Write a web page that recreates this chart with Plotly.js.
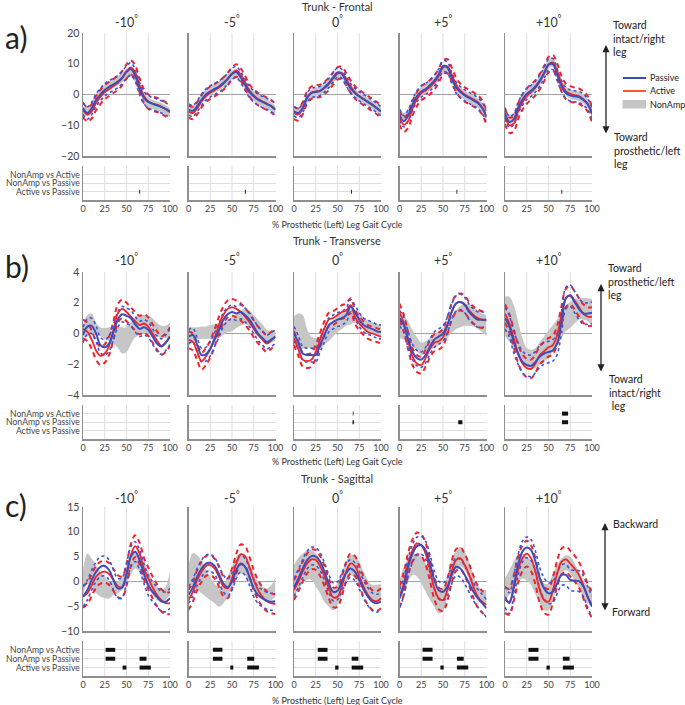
<!DOCTYPE html>
<html><head><meta charset="utf-8">
<script src="https://cdn.plot.ly/plotly-3.0.1.min.js"></script>
<style>body{margin:0;background:#fff}#chart{width:685px;height:705px}</style>
</head><body><div id="chart"></div>
<script>
// ---------- DATA ----------
const gaitPct = [0,5,10,15,20,25,30,35,40,45,50,55,60,65,70,75,80,85,90,95,100];
const conditions = ['-10','-5','0','+5','+10'];
const comparisons = ['Active vs Passive','NonAmp vs Passive','NonAmp vs Active']; // y = 1,2,3
const xTickVals = [0,25,50,75,100];
const rowTitles = ['Trunk - Frontal','Trunk - Transverse','Trunk - Sagittal'];
const rowLetters = ['a)','b)','c)'];
const frontalTicks = [-20,-10,0,10,20];
const transverseTicks = [-4,-2,0,2,4];
const sagittalTicks = [-10,-5,0,5,10,15];

// Frontal plane (deg)
const frontalPassive = [
 [-4.5,-6,-4.5,-1.8,0,1.5,2.5,3.3,4.2,5.5,7.3,8.3,6.2,2,-1,-2.4,-3,-3.5,-4,-4.7,-5.5],
 [-4.9,-5.3,-3.8,-1.7,0,1,1.8,2.6,3.7,5.1,6.7,7.3,5.6,3.2,0.8,-0.6,-1.7,-2.4,-3.1,-3.8,-4.9],
 [-5.5,-6,-4.4,-1.1,0.5,0.8,1.2,2.3,3.7,5.6,7.2,6.7,4.3,2.1,0.5,-0.6,-1.5,-2.4,-3.3,-4.4,-5.5],
 [-6.6,-8.7,-6.8,-3.3,-0.6,1,1.8,3,4.5,6.5,9.2,8.8,5.4,2.3,0.8,-0.3,-1.1,-1.9,-2.8,-4.4,-7.1],
 [-6,-8.9,-8.1,-4.4,-1.7,0.2,1.2,2.6,4.5,7,9.7,9.9,6.4,2.7,0.5,-0.3,-0.6,-0.8,-1.7,-3.1,-6]
];
const frontalPassiveSD = [2,1.8,1.5,1.8,1.8];
const frontalActive = [
 [-5,-6.5,-5.5,-2.8,-0.8,0.8,1.8,2.8,3.8,5.3,7.5,8.8,7.2,3,-0.5,-2.3,-3,-3.4,-4,-4.8,-5.8],
 [-5.5,-6,-4.5,-2.2,-0.5,0.6,1.4,2.3,3.5,5,6.8,7.8,6.5,4,1.3,-0.3,-1.5,-2.3,-3,-3.8,-5],
 [-6,-6.5,-4.5,-1,0.6,1,1.2,2.1,3.4,5.2,6.8,7,5,2.6,0.7,-0.5,-1.5,-2.5,-3.4,-4.4,-5.5],
 [-7.5,-9.8,-8.5,-4.5,-1.5,0.5,1.3,2.4,3.9,6,8.8,9.2,6.5,3.2,1.2,0,-0.8,-1.6,-2.5,-4.2,-7.5],
 [-7,-10,-9.5,-5.5,-2.5,-0.5,0.8,2.2,4.2,6.8,9.7,10.4,7.5,3.5,1,0.2,-0.2,-0.5,-1.5,-3,-6.5]
];
const frontalActiveSD = [2.3,2,2,2.3,2.5];
const frontalNonAmp = [
 [-5.5,-5.5,-3.8,-1.2,0.5,1.8,2.8,3.6,4.5,5.5,6.8,7.2,5.5,2,-1,-2.5,-3.3,-3.8,-4.3,-5,-6],
 [-5,-5,-3.5,-1.5,0.2,1.3,2.1,2.9,3.8,5,6.2,6.7,5.2,3,0.8,-0.5,-1.5,-2.3,-3.1,-4,-5.3],
 [-5.5,-5.5,-4,-1.5,0.2,0.8,1.3,2.2,3.5,5,6.3,6.3,4.6,2.3,0.5,-0.6,-1.5,-2.4,-3.3,-4.4,-5.5],
 [-5.5,-7.5,-6,-3,-0.6,0.9,1.8,2.9,4.3,6.2,8.3,8,5.2,2.5,0.9,-0.3,-1.1,-1.9,-2.8,-4.3,-7],
 [-6,-8,-7.5,-4.2,-1.6,0.2,1.3,2.7,4.6,7.2,10,10.6,7.5,3.5,1.2,0.2,-0.3,-0.6,-1.4,-3,-6]
];
const frontalNonAmpSD = [1.5,1.5,1.3,1.5,1.5];

// Transverse plane (deg)
const transversePassive = [
 [-0.1,0.45,0.5,0,-0.75,-0.9,-0.65,0.1,0.9,1.25,1.15,1,0.6,0.3,0.4,0.25,-0.2,-0.65,-0.85,-0.6,-0.2],
 [-0.2,-0.1,-0.75,-1.4,-1.35,-1,-0.4,0.2,0.9,1.25,1.4,1.3,1.4,1.2,0.9,0.45,0,-0.3,-0.55,-0.4,-0.2],
 [0,-0.6,-1.3,-1.4,-1.4,-1.4,-0.75,-0.1,0.55,0.75,0.9,1,1.2,1.75,1.4,0.9,0.55,0.4,0.3,0.15,0.1],
 [1,0.55,-0.4,-1.2,-1.6,-1.7,-1.4,-0.85,-0.4,-0.2,0,0.55,1.4,1.95,2.05,1.85,1.4,1.1,0.9,0.9,0.9],
 [1,0.45,-0.55,-1.3,-1.85,-2.05,-2.1,-1.85,-1.5,-1.3,-1.2,-1.1,-0.65,0.75,2.3,2.45,2.05,1.6,1.3,1.3,1.35]
];
const transversePassiveSD = [0.5,0.45,0.45,0.5,0.7];
const transverseActive = [
 [0.3,0.1,-0.4,-1.1,-1.45,-1.3,-0.8,0.2,1.3,1.6,1.4,1.1,0.8,0.55,0.65,0.45,0,-0.45,-0.8,-0.6,-0.2],
 [-0.4,-0.55,-1.2,-1.8,-1.5,-1,-0.3,0.55,1.2,1.6,1.7,1.6,1.4,1.1,0.75,0.3,-0.1,-0.4,-0.65,-0.45,-0.2],
 [-0.3,-1,-1.7,-1.8,-1.7,-1.2,-0.4,0.35,0.9,1,1.2,1.4,1.5,1.85,1.1,0.65,0.35,0.1,0,-0.1,-0.2],
 [1.4,0.65,-0.5,-1.5,-1.95,-2.05,-1.6,-1,-0.6,-0.5,-0.25,0.5,1.4,1.95,2.05,1.9,1.5,1.2,1,0.9,0.85],
 [1.3,0.65,-0.3,-1.3,-1.95,-2.25,-2.3,-1.95,-1.4,-1.15,-0.9,-0.75,-0.1,1.2,2.3,2.5,2.15,1.7,1.3,1.1,1.1]
];
const transverseActiveSD = [0.6,0.55,0.45,0.55,0.6];
const transverseNonAmp = [
 [0.2,0.5,0.6,0.3,0.1,0,-0.05,-0.1,-0.25,-0.45,-0.4,0,0.4,0.55,0.6,0.55,0.45,0.25,0.1,0.1,0.2],
 [-0.2,-0.1,0,0.05,0.05,0.1,0.1,0.2,0.3,0.5,0.6,0.8,1,1.1,1,0.7,0.4,0.1,-0.2,-0.2,-0.1],
 [0.1,0.2,0.1,-0.3,-0.6,-0.7,-0.6,-0.3,0,0.3,0.6,0.8,1.0,1.1,1.1,1.0,0.7,0.5,0.4,0.3,0.2],
 [0.6,0.4,0.1,-0.3,-0.7,-1.0,-0.9,-0.7,-0.5,-0.3,-0.1,0.2,0.6,0.9,1.1,1.2,1.2,1.1,0.9,0.7,0.5],
 [1.1,0.95,0.45,-0.3,-1.05,-1.55,-1.7,-1.6,-1.3,-1,-0.7,-0.3,0.1,0.55,1,1.2,1.45,1.6,1.6,1.55,1.4]
];
const transverseNonAmpSD = [
 [0.4,0.7,0.7,0.4,0.3,0.35,0.45,0.55,0.7,0.85,0.8,0.7,0.65,0.65,0.6,0.6,0.55,0.45,0.4,0.4,0.5],
 [0.6,0.5,0.4,0.4,0.4,0.45,0.5,0.5,0.4,0.4,0.45,0.45,0.5,0.5,0.5,0.5,0.5,0.5,0.45,0.4,0.35],
 [1.0,1.1,1.1,0.6,0.4,0.4,0.4,0.4,0.5,0.5,0.5,0.5,0.5,0.5,0.4,0.4,0.35,0.35,0.35,0.35,0.35],
 [0.9,0.8,0.7,0.5,0.45,0.4,0.4,0.4,0.45,0.45,0.45,0.5,0.55,0.6,0.7,0.7,0.7,0.65,0.6,0.6,0.7],
 [1.3,1.45,1.4,1.1,0.75,0.6,0.65,0.65,0.75,0.8,0.9,0.85,0.85,0.85,0.85,0.85,0.8,0.7,0.7,0.75,0.85]
];

// Sagittal plane (deg)
const sagittalPassive = [
 [-3.1,-1.75,0.3,1.95,2.95,3.1,2.3,0.3,-1.4,-1.2,1.6,5,6,4.3,1.6,-0.75,-2.1,-3.1,-4,-4.1,-3.4],
 [-2.75,-1.2,0.95,2.6,3.6,3.75,3.1,1.5,-0.4,-1.2,-0.05,2.3,3.6,2.95,0.95,-1.4,-2.75,-3.4,-3.9,-4.1,-4],
 [-1.2,0.6,2.6,4.3,5.1,5,4,1.95,-0.4,-2.1,-1.9,-0.05,1.75,2.6,1.95,0.3,-1.6,-3.1,-4.1,-4.4,-4],
 [-3.4,-1.1,2.95,5.6,7.1,7.3,6.3,3.6,0.3,-1.75,-2.1,-1.1,1.3,2.95,2.6,1.3,-0.4,-2.1,-3.4,-4.4,-5.45],
 [-3.1,-4.4,-1.1,3.3,6,6.85,6.3,4,0.6,-1.4,-2.4,-2.1,-0.4,1.3,1.3,0.3,0.15,0.05,-0.95,-3.1,-5.1]
];
const sagittalPassiveSD = [2,1.7,1.8,1.8,2.1];
const sagittalActive = [
 [-3.1,-2.4,-0.75,0.95,1.75,1.95,1.5,0.3,-0.95,-1.2,1.3,5.3,7.1,5.6,2.6,0.6,-1.2,-2.75,-3.8,-4.4,-4.4],
 [-3.75,-2.1,0.3,1.95,3.1,3.3,2.6,0.95,-0.95,-1.4,0.6,3.6,5.45,5.1,2.95,0.3,-1.75,-3.1,-4,-4.4,-4.6],
 [-1.75,-0.05,1.95,3.6,4.45,4.3,3.1,1.1,-1.4,-3.2,-3.1,-0.95,1.95,3.6,3.1,1.1,-1.1,-2.75,-3.75,-4,-3.4],
 [-3.1,-0.4,3.6,6.3,7.65,7.3,5.6,2.3,-1.4,-3.4,-3.75,-1.75,1.95,4.3,4.65,3.3,1.3,-1.1,-3.1,-4.1,-4.75],
 [-3.75,-4.1,-1.4,2.3,4.65,5.6,4.65,1.95,-1.75,-3.75,-4.1,-1.75,1.6,4,4.45,3.6,2.6,1.3,-0.75,-3.1,-4.75]
];
const sagittalActiveSD = [2.2,2,2,2.2,2.6];
const sagittalNonAmp = [
 [-0.4,2.6,1.6,0.45,-0.55,-1.2,-1.75,-1.4,-1.2,-0.4,1.1,3.15,4.3,3.6,2.15,0.3,-1.2,-2.4,-2.95,-2.4,-0.4],
 [0.8,2.3,1.75,0.8,-0.4,-1.4,-2.4,-3.1,-2.55,-1.1,0.95,2.8,3.6,2.95,1.5,-0.05,-1.6,-2.4,-2.75,-2.3,-1.1],
 [0.15,1.5,2.6,3.3,3.3,2.3,0.95,-0.95,-2.55,-3.6,-2.55,-0.4,1.75,3.3,2.95,1.6,-0.05,-1.6,-2.4,-2.4,-2.1],
 [-1.75,0.6,2.3,3.5,3.15,2.3,0.8,-0.95,-2.75,-4.1,-3.75,-0.95,2.15,4.15,5,4.15,2.15,-0.4,-2.3,-3.1,-3.2],
 [-1.6,-0.25,1.3,2.6,3.1,2.6,1.75,0.15,-1.6,-3.1,-3.1,-1.1,1.3,3.1,3.75,3.3,1.95,0.3,-1.4,-2.75,-3.2]
];
const sagittalNonAmpSD = [
 [2.7,3,3,2.8,2.5,2.2,1.7,1.35,1.2,1.35,1.5,1.8,1.7,1.7,1.8,1.7,1.5,1.35,1.2,1.35,2.35],
 [2.5,3.4,3.5,3.2,2.7,2.35,2,2,1.9,2,2,2.2,2,1.7,1.8,1.7,1.5,1.35,1.35,1.5,2],
 [3.2,3.2,3,3,3,3.35,3.35,3.2,2.5,2.2,2.2,2.35,2.2,2,2.35,2.35,2,1.8,1.7,1.7,1.7],
 [2,2.35,2.35,2.15,2.15,2.7,2.8,2.8,2.35,2.35,2.35,2.15,2.15,2.15,2,1.8,1.8,1.7,1.5,1.35,1.5],
 [2.2,2.5,2.7,2.7,2.5,2.35,2.5,2.8,2.8,2.7,2.7,2.7,2,1.5,1.5,1.7,1.7,1.7,1.7,1.7,1.8]
];

// Significant intervals: [comparison (1..3), start %, end %]
const frontalSig = [
 [[1,64.6,65.6]], [[1,65,66]], [[1,65.5,66.5]], [[1,65.5,66.5]], [[1,64.8,65.8]]
];
const transverseSig = [
 [], [], [[3,67.6,68.4],[2,67.3,68.8]], [[2,67.5,72.3]], [[3,65.5,72.5],[2,65.5,72.5]]
];
const sagittalSig = [
 [[3,26,37],[2,26,37],[2,65,73],[1,45.5,49.8],[1,65,78]],
 [[3,28,39],[2,28,39],[2,67.5,75.5],[1,48,51.5],[1,67.5,81]],
 [[3,27.3,38.5],[2,27.3,38.5],[2,66.3,74],[1,47.3,51.2],[1,66.3,79.5]],
 [[3,26.5,38],[2,26.5,38],[2,66,73.8],[1,47,50.8],[1,66,79]],
 [[3,27,38.5],[2,27,38.5],[2,66.5,74.2],[1,47.7,51.5],[1,66.5,79.2]]
];

// ---------- LAYOUT / DRAWING ----------
const W = 685, H = 705;
const FONT = 'Lato, "Open Sans", sans-serif';
const TXT = '#333';
const colLeft = [83,188.5,294,399.5,505], colW = 87;
const rowMain = [[33,156],[272,395],[507,631]];
const rowSig = [[166,200],[405,439],[641,676]];
const condTitleY = [21,259,497];
const rowTitleY = [6,240,478];
const xTitleY = [224,462,700];
const letterY = [37,266,505];
const yRanges = [[-20,20],[-4,4],[-10,15]];
const yTicks = [frontalTicks, transverseTicks, sagittalTicks];

const rows = [
 {P: frontalPassive, PSD: frontalPassiveSD, A: frontalActive, ASD: frontalActiveSD, N: frontalNonAmp, NSD: frontalNonAmpSD, sig: frontalSig},
 {P: transversePassive, PSD: transversePassiveSD, A: transverseActive, ASD: transverseActiveSD, N: transverseNonAmp, NSD: transverseNonAmpSD, sig: transverseSig},
 {P: sagittalPassive, PSD: sagittalPassiveSD, A: sagittalActive, ASD: sagittalActiveSD, N: sagittalNonAmp, NSD: sagittalNonAmpSD, sig: sagittalSig}
];

const px = v => v / W;
const py = v => 1 - v / H;
const BLUE = '#3c4cb8', BLUE_D = '#3a55d8', RED = '#f0222a', GRAY = '#c6c6c6', AXIS = '#8f8f8f', GRID = '#dedede';

const traces = [];
const layout = {
  width: W, height: H, margin: {l:0,r:0,t:0,b:0},
  paper_bgcolor: '#fff', plot_bgcolor: 'rgba(0,0,0,0)',
  showlegend: false, font: {family: FONT, color: TXT, size: 10},
  shapes: [], annotations: []
};

function sdAt(sd, i) { return Array.isArray(sd) ? sd[i] : sd; }

let n = 0;
for (let r = 0; r < 3; r++) {
  const R = rows[r];
  for (let p = 0; p < 5; p++) {
    const left = colLeft[p];
    // main axes
    n++;
    const mx = 'x' + n, my = 'y' + n;
    layout['xaxis' + n] = {domain: [px(left), px(left + colW)], anchor: my, range: [0,100], showline: true,
      linecolor: AXIS, linewidth: 1.5, showgrid: false, zeroline: false, showticklabels: false, ticks: '', fixedrange: true};
    layout['yaxis' + n] = {domain: [py(rowMain[r][1]), py(rowMain[r][0])], anchor: mx, range: yRanges[r],
      showline: true, linecolor: AXIS, linewidth: 1.5, showgrid: false, zeroline: true, zerolinecolor: '#a3a3a3',
      zerolinewidth: 1.5, tickvals: yTicks[r], ticks: '', showticklabels: p === 0,
      tickfont: {size: 10.5, color: '#444', family: FONT}, fixedrange: true};
    // NonAmp band
    const lo = R.N[p].map((v,i) => v - sdAt(R.NSD[p], i));
    const hi = R.N[p].map((v,i) => v + sdAt(R.NSD[p], i));
    traces.push({x: gaitPct, y: lo, xaxis: mx, yaxis: my, mode: 'lines', line: {width: 0, shape: 'spline'}, hoverinfo: 'skip'});
    traces.push({x: gaitPct, y: hi, xaxis: mx, yaxis: my, mode: 'lines', line: {width: 0, shape: 'spline'}, fill: 'tonexty', fillcolor: GRAY, hoverinfo: 'skip'});
    // Active +/- SD (dashed)
    [1,-1].forEach(s => traces.push({x: gaitPct, y: R.A[p].map(v => v + s*R.ASD[p]), xaxis: mx, yaxis: my, mode: 'lines',
      line: {color: RED, width: 2, dash: '5px,4px', shape: 'spline'}}));
    // Passive +/- SD (dotted)
    [1,-1].forEach(s => traces.push({x: gaitPct, y: R.P[p].map(v => v + s*R.PSD[p]), xaxis: mx, yaxis: my, mode: 'lines',
      line: {color: BLUE_D, width: 1.6, dash: 'dot', shape: 'spline'}}));
    // means
    traces.push({x: gaitPct, y: R.A[p], xaxis: mx, yaxis: my, mode: 'lines', line: {color: RED, width: 1.8, shape: 'spline'}});
    traces.push({x: gaitPct, y: R.P[p], xaxis: mx, yaxis: my, mode: 'lines', line: {color: BLUE, width: 2, shape: 'spline'}});
    [25,50,75].forEach(g => layout.shapes.push({type: 'line', xref: mx, yref: my + ' domain', x0: g, x1: g, y0: 0, y1: 1,
      line: {color: GRID, width: 1}, layer: 'below'}));
    // condition title
    layout.annotations.push({xref: 'paper', yref: 'paper', x: px(left + colW/2), y: py(condTitleY[r]),
      text: conditions[p] + '<sup>°</sup>', showarrow: false, font: {size: 12.5, color: TXT}, xanchor: 'center', yanchor: 'middle'});

    // significance axes
    n++;
    const sx = 'x' + n, sy = 'y' + n;
    layout['xaxis' + n] = {domain: [px(left), px(left + colW)], anchor: sy, range: [0,100], showline: true,
      linecolor: AXIS, linewidth: 1.5, showgrid: false, zeroline: false, tickvals: xTickVals, ticks: '',
      tickfont: {size: 9, color: '#444', family: FONT}, fixedrange: true};
    layout['yaxis' + n] = {domain: [py(rowSig[r][1]), py(rowSig[r][0])], anchor: sx, range: [0.05,4],
      showline: true, linecolor: AXIS, linewidth: 1.5, showgrid: true, gridcolor: GRID, gridwidth: 1, zeroline: false,
      tickvals: [1,2,3], ticktext: comparisons, ticks: '', showticklabels: p === 0,
      tickfont: {size: 8.6, color: '#444', family: FONT}, fixedrange: true};
    [25,50,75].forEach(g => layout.shapes.push({type: 'line', xref: sx, yref: sy + ' domain', x0: g, x1: g, y0: 0, y1: 1,
      line: {color: GRID, width: 1}, layer: 'below'}));
    const bx = [], by = [];
    R.sig[p].forEach(s => { bx.push(s[1], s[2], null); by.push(s[0], s[0], null); });
    if (bx.length) traces.push({x: bx, y: by, xaxis: sx, yaxis: sy, mode: 'lines', connectgaps: false,
      line: {color: '#111', width: 4}, hoverinfo: 'skip'});
  }
  // row title, x title, letter
  layout.annotations.push({xref: 'paper', yref: 'paper', x: px(337), y: py(rowTitleY[r]), text: rowTitles[r],
    showarrow: false, font: {size: 11, color: TXT}, xanchor: 'center', yanchor: 'middle'});
  layout.annotations.push({xref: 'paper', yref: 'paper', x: px(337), y: py(xTitleY[r]), text: '% Prosthetic (Left) Leg Gait Cycle',
    showarrow: false, font: {size: 9, color: TXT}, xanchor: 'center', yanchor: 'middle'});
  layout.annotations.push({xref: 'paper', yref: 'paper', x: px(3), y: py(letterY[r]), text: rowLetters[r],
    showarrow: false, font: {size: 30, color: '#222'}, xanchor: 'left', yanchor: 'middle'});
}

// right-hand direction labels + arrows
function sideText(x, y, text) {
  layout.annotations.push({xref: 'paper', yref: 'paper', x: px(x), y: py(y), text: text, showarrow: false,
    font: {size: 10.5, color: '#222'}, xanchor: 'left', yanchor: 'top', align: 'left'});
}
function vArrow(x, yTop, yBot) {
  layout.annotations.push({xref: 'paper', yref: 'paper', x: px(x), y: py(yTop), ax: 0, ay: yBot - yTop, axref: 'pixel', ayref: 'pixel',
    text: '', showarrow: true, arrowhead: 2, arrowside: 'end+start', arrowsize: 1.1, arrowwidth: 1.3, arrowcolor: '#222'});
}
sideText(611, 17, 'Toward<br>intact/right<br>leg');
vArrow(606, 45, 135);
sideText(612, 129, 'Toward<br>prosthetic/left<br>leg');
sideText(606, 260, 'Toward<br>prosthetic/left<br>leg');
vArrow(601, 284, 373);
sideText(607, 371, 'Toward<br>intact/right<br> leg');
sideText(611, 516, 'Backward');
vArrow(605, 523, 612);
sideText(610, 604, 'Forward');

// legend
const legendItems = [['Passive', BLUE, 78], ['Active', '#ff5530', 91]];
legendItems.forEach(it => {
  layout.shapes.push({type: 'line', xref: 'paper', yref: 'paper', x0: px(623), x1: px(646), y0: py(it[2]), y1: py(it[2]),
    line: {color: it[1], width: 2}});
  layout.annotations.push({xref: 'paper', yref: 'paper', x: px(648), y: py(it[2]), text: it[0], showarrow: false,
    font: {size: 9, color: '#222'}, xanchor: 'left', yanchor: 'middle'});
});
layout.shapes.push({type: 'rect', xref: 'paper', yref: 'paper', x0: px(622.5), x1: px(646), y0: py(108.5), y1: py(100),
  fillcolor: GRAY, line: {width: 0}});
layout.annotations.push({xref: 'paper', yref: 'paper', x: px(648), y: py(104), text: 'NonAmp', showarrow: false,
  font: {size: 9, color: '#222'}, xanchor: 'left', yanchor: 'middle'});

Plotly.newPlot('chart', traces, layout, {staticPlot: true, displayModeBar: false});
</script>
</body></html>
